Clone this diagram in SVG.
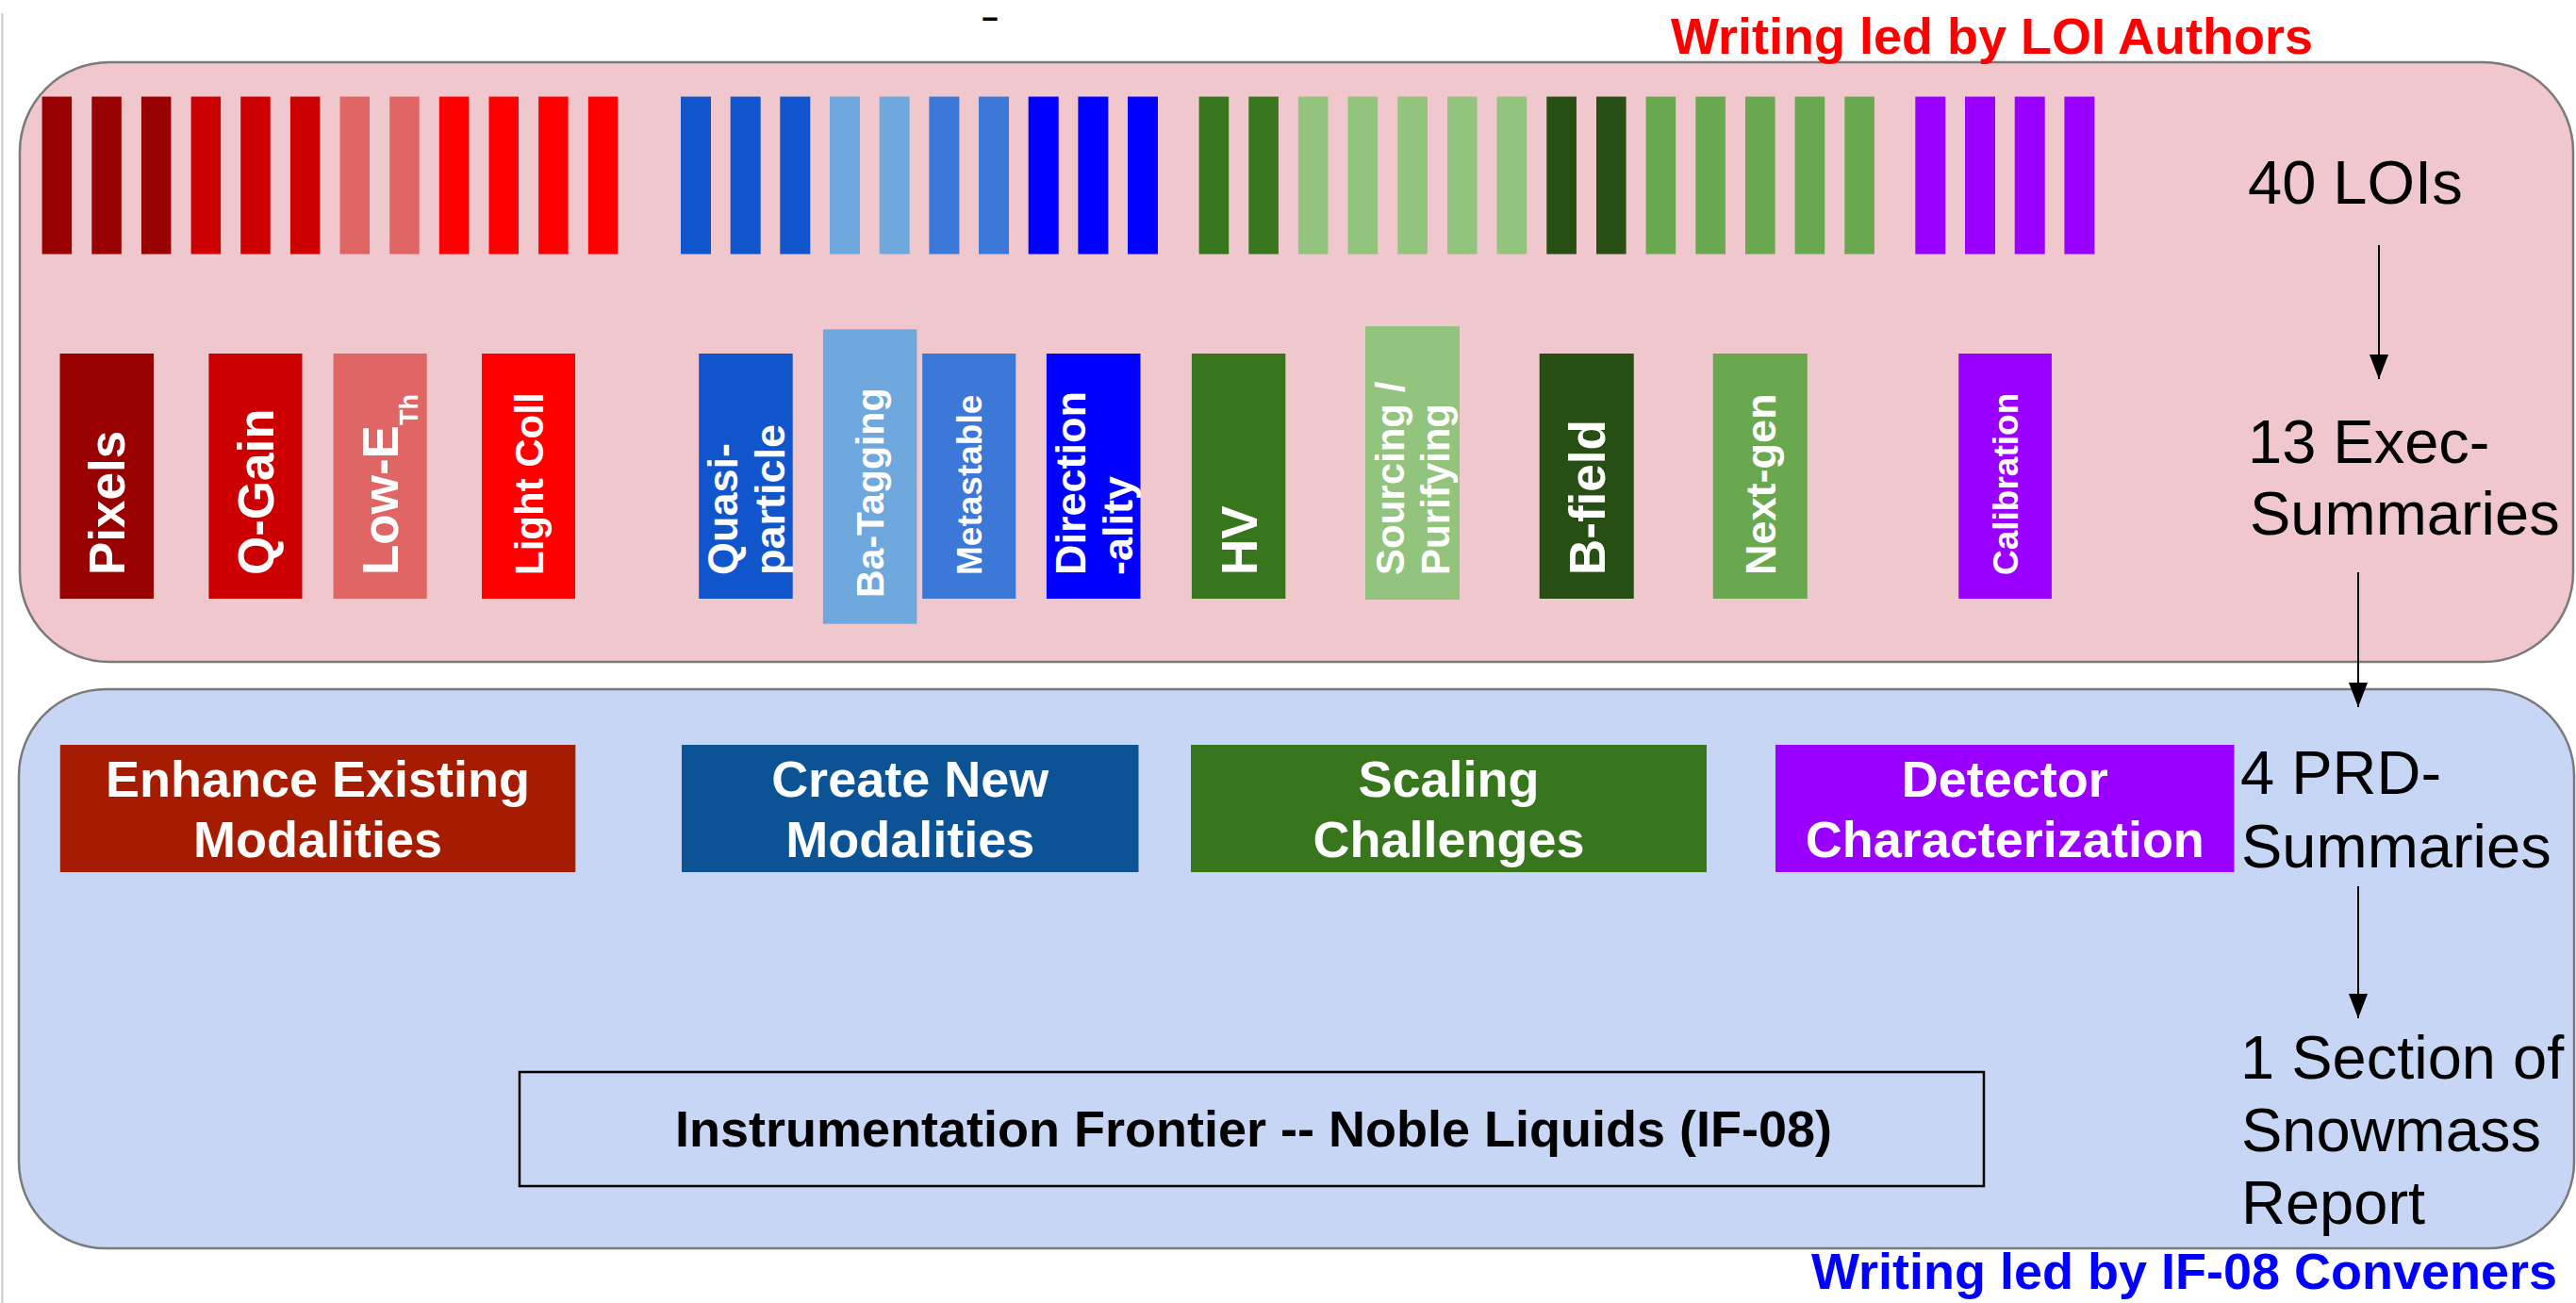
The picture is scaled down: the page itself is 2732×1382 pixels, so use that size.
<svg xmlns="http://www.w3.org/2000/svg" width="2732" height="1382" viewBox="0 0 2732 1382">
<defs>
<marker id="ah" viewBox="0 0 26 20" markerUnits="userSpaceOnUse" markerWidth="26" markerHeight="20" refX="26" refY="10" orient="auto"><path d="M0,0 L26,10 L0,20 z" fill="#000"/></marker>
<style>
.b{font-family:"Liberation Sans",Arial,sans-serif;font-weight:bold}
.n{font-family:"Liberation Sans",Arial,sans-serif;font-size:65px;fill:#000}
.w{fill:#fff}
.h{fill:#fff;font-size:54px;text-anchor:middle}
.panel{stroke:#7a7a7a;stroke-width:2.5}
.c1{fill:#990000}.c2{fill:#cc0000}.c3{fill:#e06666}.c4{fill:#ff0000}
.c5{fill:#1155cc}.c6{fill:#6fa8dc}.c7{fill:#3c78d8}.c8{fill:#0000ff}
.c9{fill:#38761d}.c10{fill:#93c47d}.c11{fill:#274e13}.c12{fill:#6aa84f}
.c13{fill:#9900ff}
.conn{stroke:#000;stroke-width:2;fill:none;marker-end:url(#ah)}
</style>
</defs>
<rect width="2732" height="1382" fill="#fff"/>
<line x1="2.5" y1="14" x2="2.5" y2="1382" stroke="#c8c8c8" stroke-width="2"/>
<text class="b" x="1040" y="28" font-size="30" fill="#000" transform="translate(-1040,0) scale(2,1)" style="transform-box:view-box">-</text>

<g id="panel-loi">
<rect class="panel" x="21" y="66" width="2708" height="636" rx="95" ry="95" fill="#f0c7cd"/>
<text class="b" x="1772" y="57" font-size="54" fill="#ff0000">Writing led by LOI Authors</text>
</g>
<g id="panel-conveners">
<rect class="panel" x="20" y="731" width="2710" height="593" rx="92" ry="92" fill="#c7d6f4"/>
<text class="b" x="1921" y="1367" font-size="54" fill="#0000ff">Writing led by IF-08 Conveners</text>
</g>

<g id="loi-bars">
<g class="c1"><rect x="44.6" y="102.5" width="31.5" height="167"/><rect x="97.3" y="102.5" width="31.5" height="167"/><rect x="149.9" y="102.5" width="31.5" height="167"/></g>
<g class="c2"><rect x="202.6" y="102.5" width="31.5" height="167"/><rect x="255.2" y="102.5" width="31.5" height="167"/><rect x="307.9" y="102.5" width="31.5" height="167"/></g>
<g class="c3"><rect x="360.5" y="102.5" width="31.5" height="167"/><rect x="413.2" y="102.5" width="31.5" height="167"/></g>
<g class="c4"><rect x="465.8" y="102.5" width="31.5" height="167"/><rect x="518.5" y="102.5" width="31.5" height="167"/><rect x="571.1" y="102.5" width="31.5" height="167"/><rect x="623.8" y="102.5" width="31.5" height="167"/></g>
<g class="c5"><rect x="722" y="102.5" width="32" height="167"/><rect x="774.7" y="102.5" width="32" height="167"/><rect x="827.3" y="102.5" width="32" height="167"/></g>
<g class="c6"><rect x="880" y="102.5" width="32" height="167"/><rect x="932.7" y="102.5" width="32" height="167"/></g>
<g class="c7"><rect x="985.4" y="102.5" width="32" height="167"/><rect x="1038" y="102.5" width="32" height="167"/></g>
<g class="c8"><rect x="1090.7" y="102.5" width="32" height="167"/><rect x="1143.4" y="102.5" width="32" height="167"/><rect x="1196" y="102.5" width="32" height="167"/></g>
<g class="c9"><rect x="1271.6" y="102.5" width="31.6" height="167"/><rect x="1324.3" y="102.5" width="31.6" height="167"/></g>
<g class="c10"><rect x="1376.9" y="102.5" width="31.6" height="167"/><rect x="1429.6" y="102.5" width="31.6" height="167"/><rect x="1482.3" y="102.5" width="31.6" height="167"/><rect x="1535" y="102.5" width="31.6" height="167"/><rect x="1587.6" y="102.5" width="31.6" height="167"/></g>
<g class="c11"><rect x="1640.3" y="102.5" width="31.6" height="167"/><rect x="1693" y="102.5" width="31.6" height="167"/></g>
<g class="c12"><rect x="1745.6" y="102.5" width="31.6" height="167"/><rect x="1798.3" y="102.5" width="31.6" height="167"/><rect x="1851" y="102.5" width="31.6" height="167"/><rect x="1903.6" y="102.5" width="31.6" height="167"/><rect x="1956.3" y="102.5" width="31.6" height="167"/></g>
<g class="c13"><rect x="2031.3" y="102.5" width="32" height="167"/><rect x="2084" y="102.5" width="32" height="167"/><rect x="2136.7" y="102.5" width="32" height="167"/><rect x="2189.4" y="102.5" width="32" height="167"/></g>
</g>

<g id="es-pixels"><rect class="c1" x="63.5" y="375" width="99.5" height="260"/><text class="b w" font-size="53" transform="translate(132.2,610) rotate(-90)">Pixels</text></g>
<g id="es-qgain"><rect class="c2" x="221.4" y="375" width="99.1" height="260"/><text class="b w" font-size="53" transform="translate(290,610) rotate(-90)">Q-Gain</text></g>
<g id="es-lowe"><rect class="c3" x="353.6" y="375" width="99.1" height="260"/><text class="b w" font-size="53" transform="translate(403.2,610) rotate(-90)"><tspan y="19">Low-E</tspan><tspan font-size="27" dy="21">Th</tspan></text></g>
<g id="es-lightcoll"><rect class="c4" x="511" y="375" width="99" height="260"/><text class="b w" font-size="42" transform="translate(575.5,610) rotate(-90)">Light Coll</text></g>
<g id="es-quasi"><rect class="c5" x="741.2" y="375" width="99.5" height="260"/><text class="b w" font-size="45" transform="translate(791,610) rotate(-90)"><tspan x="0" y="-9">Quasi-</tspan><tspan x="0" y="41">particle</tspan></text></g>
<g id="es-batagging"><rect class="c6" x="872.9" y="349.3" width="99.5" height="312.4"/><text class="b w" font-size="41" transform="translate(937.4,634) rotate(-90)">Ba-Tagging</text></g>
<g id="es-metastable"><rect class="c7" x="978.2" y="375" width="99.1" height="260"/><text class="b w" font-size="37" transform="translate(1041,610) rotate(-90)">Metastable</text></g>
<g id="es-direction"><rect class="c8" x="1109.9" y="375" width="99.6" height="260"/><text class="b w" font-size="45" transform="translate(1159.7,610) rotate(-90)"><tspan x="0" y="-9">Direction</tspan><tspan x="0" y="41">-ality</tspan></text></g>
<g id="es-hv"><rect class="c9" x="1263.9" y="375" width="99.4" height="260"/><text class="b w" font-size="53" transform="translate(1332.6,610) rotate(-90)">HV</text></g>
<g id="es-sourcing"><rect class="c10" x="1448" y="346" width="100" height="290"/><text class="b w" font-size="42" transform="translate(1498,610) rotate(-90)"><tspan x="0" y="-9">Sourcing /</tspan><tspan x="0" y="39">Purifying</tspan></text></g>
<g id="es-bfield"><rect class="c11" x="1632.7" y="375" width="100" height="260"/><text class="b w" font-size="53" transform="translate(1701.7,610) rotate(-90)">B-field</text></g>
<g id="es-nextgen"><rect class="c12" x="1816.8" y="375" width="100" height="260"/><text class="b w" font-size="45" transform="translate(1882.9,610) rotate(-90)">Next-gen</text></g>
<g id="es-calibration"><rect class="c13" x="2077.2" y="375" width="98.7" height="260"/><text class="b w" font-size="37" transform="translate(2139.8,610) rotate(-90)">Calibration</text></g>

<g id="prd-enhance"><rect x="63.8" y="790" width="546.5" height="135" fill="#a61c00"/><text class="b h" x="337" y="844.5">Enhance Existing</text><text class="b h" x="337" y="908.5">Modalities</text></g>
<g id="prd-create"><rect x="723" y="790" width="484.5" height="135" fill="#0b5394"/><text class="b h" x="965.2" y="844.5">Create New</text><text class="b h" x="965.2" y="908.5">Modalities</text></g>
<g id="prd-scaling"><rect x="1263" y="790" width="547" height="135" fill="#38761d"/><text class="b h" x="1536.5" y="844.5">Scaling</text><text class="b h" x="1536.5" y="908.5">Challenges</text></g>
<g id="prd-detector"><rect x="1883" y="790" width="486.5" height="135" fill="#9900ff"/><text class="b h" x="2126.3" y="844.5">Detector</text><text class="b h" x="2126.3" y="908.5">Characterization</text></g>

<g id="if08"><rect x="551" y="1137" width="1553" height="121" fill="none" stroke="#000" stroke-width="2.5"/><text class="b" x="1329.5" y="1216" font-size="54" text-anchor="middle" fill="#000">Instrumentation Frontier -- Noble Liquids (IF-08)</text></g>

<g id="step-lois"><text class="n" x="2384" y="216">40 LOIs</text></g>
<g id="step-exec"><text class="n" x="2384" y="491">13 Exec-</text><text class="n" x="2386" y="567">Summaries</text></g>
<g id="step-prd"><text class="n" x="2376" y="842">4 PRD-</text><text class="n" x="2377" y="920">Summaries</text></g>
<g id="step-report"><text class="n" x="2376" y="1144">1 Section of</text><text class="n" x="2377" y="1221">Snowmass</text><text class="n" x="2377" y="1298">Report</text></g>

<g id="connectors">
<line class="conn" x1="2523" y1="260" x2="2523" y2="402"/>
<line class="conn" x1="2501" y1="607" x2="2501" y2="750"/>
<line class="conn" x1="2501" y1="940" x2="2501" y2="1080"/>
</g>
</svg>
